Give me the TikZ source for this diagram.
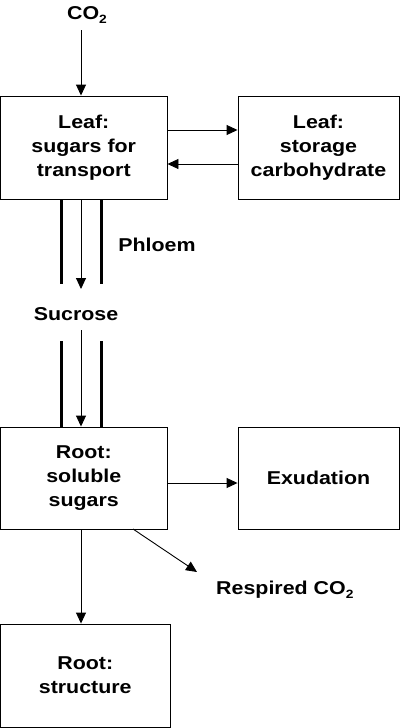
\documentclass[tikz,border=0pt]{standalone}
\usepackage{fontspec}
\setmainfont[FakeStretch=1.15]{Liberation Sans}
\usetikzlibrary{arrows.meta}
\newcommand{\subtwo}{\raisebox{-4.5pt}{\fontsize{12}{12}\selectfont 2}}
\begin{document}
\begin{tikzpicture}[x=1pt,y=-1pt,
  box/.style={draw,line width=0.9pt,inner sep=0pt,align=center,
    font=\fontsize{18.6}{24}\selectfont\bfseries},
  lbl/.style={inner sep=0pt,font=\fontsize{18.6}{24}\selectfont\bfseries},
  arr/.style={line width=0.9pt,-{Triangle[length=11pt,width=10pt]}},
  tube/.style={line width=3pt}]
\useasboundingbox (0,0) rectangle (400,728);
\node[box,minimum width=166.5pt,minimum height=103pt] (leaf) at (83.75,147.5) {Leaf:\\sugars for\\transport};
\node[box,minimum width=161pt,minimum height=103pt] (store) at (318.5,147.5) {Leaf:\\storage\\carbohydrate};
\node[box,minimum width=166.5pt,minimum height=102pt] (root) at (83.75,478) {Root:\\soluble\\sugars};
\node[box,minimum width=161pt,minimum height=102pt] (exud) at (318.5,478) {Exudation};
\node[box,minimum width=169.5pt,minimum height=103pt] (struct) at (85.25,675.5) {Root:\\structure};
\node[lbl] (co2) at (87,15) {CO\subtwo};
\node[lbl] (phloem) at (157,245) {Phloem};
\node[lbl] (sucrose) at (76,314) {Sucrose};
\node[lbl,anchor=west] (resp) at (216,590) {Respired CO\subtwo};
% CO2 in
\coordinate (co2end) at (81,30);
\draw[arr] (co2end) -- (co2end |- leaf.north);
% leaf <-> store
\draw[arr] ([yshift=17.5pt]leaf.east) -- ([yshift=17.5pt]store.west);
\draw[arr] ([yshift=-16.5pt]store.west) -- ([yshift=-16.5pt]leaf.east);
% upper phloem
\coordinate (t1) at (61,284);
\coordinate (t2) at (101,284);
\coordinate (a1) at (81,289);
\draw[tube] (t1 |- leaf.south) -- (t1);
\draw[tube] (t2 |- leaf.south) -- (t2);
\draw[arr] (a1 |- leaf.south) -- (a1);
% lower phloem
\coordinate (b1) at (61,341);
\coordinate (b2) at (101,341);
\coordinate (c1) at (81,330);
\draw[tube] (b1) -- (b1 |- root.north);
\draw[tube] (b2) -- (b2 |- root.north);
\draw[arr] (c1) -- (c1 |- root.north);
% root outputs
\draw[arr] ([yshift=-5pt]root.east) -- ([yshift=-5pt]exud.west);
\coordinate (r1) at (133,529);
\coordinate (r2) at (197,572);
\draw[arr] (r1) -- (r2);
\coordinate (d1) at (81,529);
\draw[arr] (d1) -- (d1 |- struct.north);
\end{tikzpicture}
\end{document}
